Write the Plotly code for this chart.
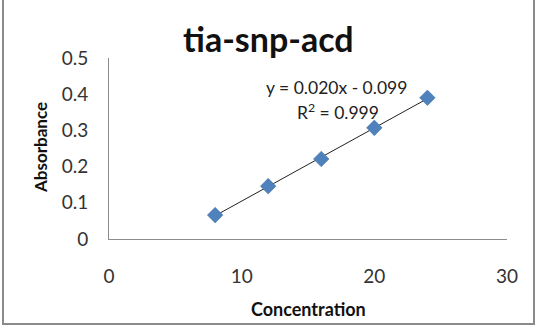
import numpy as np
import plotly.graph_objects as go

concentration = [8, 12, 16, 20, 24]
absorbance = [0.066, 0.146, 0.221, 0.307, 0.390]
title_text = "tia-snp-acd"
x_title = "Concentration"
y_title = "Absorbance"
equation_text = "y = 0.020x - 0.099"
r2_text = "R<sup>2</sup> = 0.999"

slope, intercept = np.polyfit(concentration, absorbance, 1)
fit_x = [min(concentration), max(concentration)]
fit_y = [slope * v + intercept for v in fit_x]

FONT = "Lato, 'Open Sans', sans-serif"
fig = go.Figure()
fig.add_trace(go.Scatter(x=fit_x, y=fit_y, mode="lines",
                         line=dict(color="#222222", width=1), hoverinfo="skip"))
fig.add_trace(go.Scatter(x=concentration, y=absorbance, mode="markers",
                         marker=dict(symbol="diamond", size=12, color="#4F81BD",
                                     line=dict(color="#3C6CA8", width=0.5))))

W, H = 540, 328
L, R, T, B = 109, 33, 58, 89
pw, ph = W - L - R, H - T - B

def px(x):
    return (x - L) / pw

def py(y):
    return (H - B - y) / ph

def ann(text, x, y, size, color="#111111", angle=0):
    return dict(text=text, x=px(x), y=py(y), xref="paper", yref="paper",
                xanchor="center", yanchor="middle", showarrow=False, textangle=angle,
                font=dict(size=size, family=FONT, color=color))

fig.update_layout(
    width=W, height=H, showlegend=False,
    margin=dict(l=L, r=R, t=T, b=B),
    paper_bgcolor="white", plot_bgcolor="white",
    font=dict(family=FONT, color="#222222", size=18),
    xaxis=dict(range=[0, 30], tickvals=[0, 10, 20, 30], showgrid=False, zeroline=False,
               showline=True, linecolor="#8C8C8C", linewidth=1, ticks="",
               ticklabelstandoff=20, tickfont=dict(size=19, family=FONT, color="#333333")),
    yaxis=dict(range=[0, 0.5], tickvals=[0, 0.1, 0.2, 0.3, 0.4, 0.5],
               ticktext=["0", "0.1", "0.2", "0.3", "0.4", "0.5"],
               showgrid=False, zeroline=False,
               showline=True, linecolor="#8C8C8C", linewidth=1, ticks="",
               ticklabelstandoff=16, tickfont=dict(size=19, family=FONT, color="#333333")),
    annotations=[
        ann("<b>" + title_text + "</b>", 268, 38, 34),
        ann("<b>" + x_title + "</b>", 308, 309, 18),
        ann("<b>" + y_title + "</b>", 40, 148, 17, angle=-90),
        ann(equation_text, 336, 87, 17.5, color="#222222"),
        ann(r2_text, 338, 111, 17.5, color="#222222"),
    ],
    shapes=[
        dict(type="rect", xref="paper", yref="paper",
             x0=px(3), x1=px(534), y0=py(324), y1=py(-5),
             line=dict(color="#8A8A8A", width=2), fillcolor="rgba(0,0,0,0)", layer="below"),
    ],
)

fig.write_html("out.html")
